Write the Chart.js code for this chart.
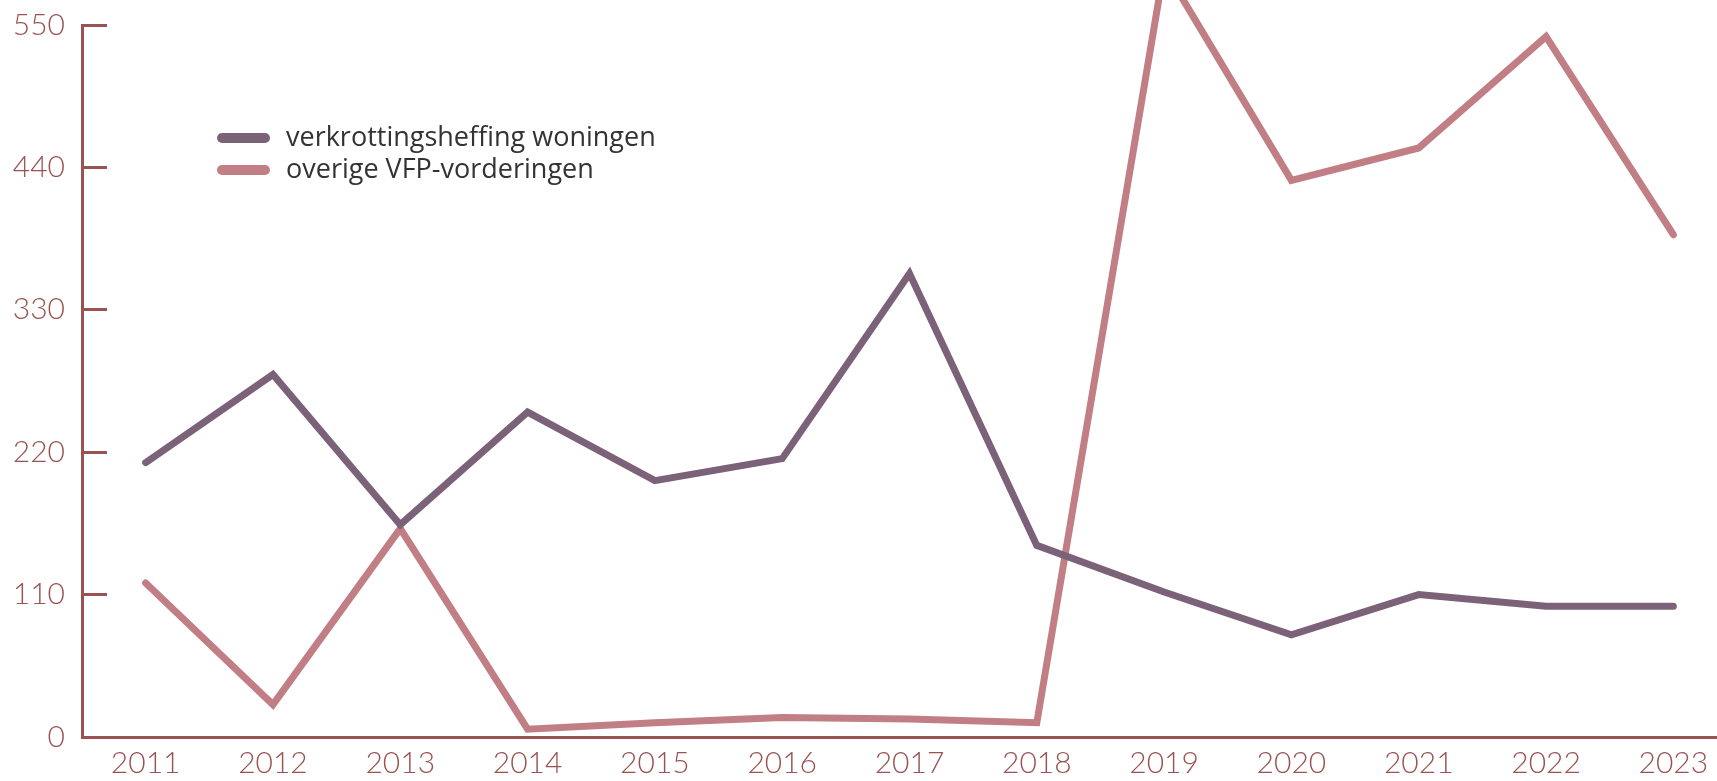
<!DOCTYPE html>
<html>
<head>
<meta charset="utf-8">
<script src="https://cdn.jsdelivr.net/npm/chart.js@4.4.1/dist/chart.umd.min.js"></script>
<style>
  html, body { margin: 0; padding: 0; background: #fff; overflow: hidden; }
  #wrap { width: 1717px; height: 781px; overflow: hidden; }
</style>
</head>
<body>
<div id="wrap"><canvas id="vfpChart" width="1737" height="781"></canvas></div>
<script>
// data
const years = ['2011', '2012', '2013', '2014', '2015', '2016', '2017', '2018', '2019', '2020', '2021', '2022', '2023'];
const verkrottingsheffing = [212, 280, 164, 251, 198, 215, 358, 148, 112, 79, 110, 101, 101];
const overigeVfp = [119, 25, 161, 6, 11, 15, 14, 11, 594, 430, 455, 541, 388];
const yMin = 0;
const yMax = 550;
const yStep = 110;

const axisColor = '#9a5352';

// legend drawn inside the plot, top-left
const insideLegend = {
    id: 'insideLegend',
    afterDraw(chart) {
        const ctx = chart.ctx;
        ctx.save();
        ctx.font = '27px "Open Sans"';
        ctx.textBaseline = 'middle';
        chart.data.datasets.forEach(function(ds, i) {
            const y = 138 + i * 32;
            ctx.strokeStyle = ds.borderColor;
            ctx.lineWidth = 10;
            ctx.lineCap = 'round';
            ctx.beginPath();
            ctx.moveTo(222, y);
            ctx.lineTo(265, y);
            ctx.stroke();
            ctx.fillStyle = '#333333';
            ctx.fillText(ds.label, 286, y);
        });
        ctx.restore();
    }
};

new Chart(document.getElementById('vfpChart'), {
    type: 'line',
    data: {
        labels: years,
        datasets: [{
            label: 'verkrottingsheffing woningen',
            data: verkrottingsheffing,
            borderColor: '#7b6278',
            borderWidth: 7,
            borderCapStyle: 'round',
            pointRadius: 0,
            tension: 0,
            clip: false
        }, {
            label: 'overige VFP-vorderingen',
            data: overigeVfp,
            borderColor: '#c17e84',
            borderWidth: 7,
            borderCapStyle: 'round',
            pointRadius: 0,
            tension: 0,
            clip: false
        }]
    },
    options: {
        responsive: false,
        animation: false,
        layout: { padding: { top: 25, left: 0, right: 0, bottom: 0 } },
        plugins: {
            legend: { display: false },
            tooltip: { enabled: false }
        },
        scales: {
            x: {
                offset: true,
                grid: { display: false, drawTicks: false },
                border: { display: true, color: axisColor, width: 3 },
                ticks: {
                    color: axisColor,
                    padding: 8,
                    maxRotation: 0,
                    font: { family: 'Lato', size: 30, weight: '300' }
                },
                afterFit: function(scale) { scale.height = 44; }
            },
            y: {
                min: yMin,
                max: yMax,
                grid: {
                    drawOnChartArea: false,
                    drawTicks: true,
                    tickLength: -25,
                    tickColor: axisColor,
                    lineWidth: 3
                },
                border: { display: true, color: axisColor, width: 3 },
                ticks: {
                    stepSize: yStep,
                    color: axisColor,
                    padding: 42,
                    font: { family: 'Lato', size: 30, weight: '300' }
                },
                afterFit: function(scale) {
                    scale.width = 82;
                    scale.paddingTop = 0;
                    scale.paddingBottom = 0;
                }
            }
        }
    },
    plugins: [insideLegend]
});
</script>
</body>
</html>
